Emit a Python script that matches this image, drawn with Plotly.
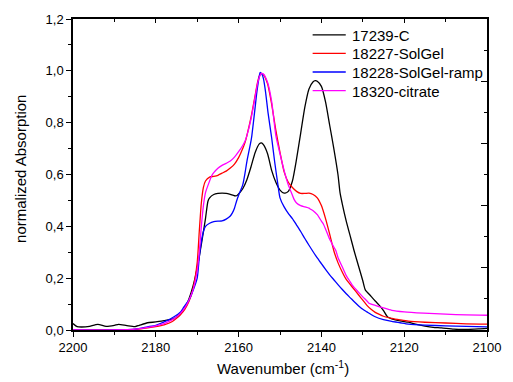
import plotly.graph_objects as go

# ---------------- data ----------------
black_x = [2200, 2199, 2197, 2196, 2194, 2192, 2190, 2189, 2187, 2185, 2184, 2182, 2180, 2178, 2176,
           2175, 2174, 2173, 2172, 2171, 2170, 2169, 2168, 2167.4, 2167, 2166, 2165, 2164, 2163, 2162,
           2161, 2160.5, 2160, 2159, 2158, 2157, 2156, 2155, 2154.5, 2154, 2153, 2152, 2151, 2150,
           2149, 2148, 2147, 2146, 2145, 2144, 2143, 2142, 2141.5, 2141, 2140, 2139, 2138, 2137, 2136,
           2135.5, 2135, 2134, 2133, 2132.5, 2132, 2131, 2130, 2129.4, 2128, 2127, 2126, 2125, 2124,
           2123, 2121, 2119, 2117, 2115, 2113, 2111, 2108, 2105, 2102, 2100]
black_y = [0.025, 0.013, 0.012, 0.014, 0.022, 0.014, 0.018, 0.022, 0.017, 0.013, 0.018, 0.028, 0.031,
           0.036, 0.042, 0.05, 0.065, 0.085, 0.12, 0.17, 0.24, 0.33, 0.43, 0.497, 0.51, 0.523, 0.527,
           0.528, 0.527, 0.523, 0.518, 0.518, 0.525, 0.545, 0.58, 0.63, 0.685, 0.718, 0.722, 0.715,
           0.68, 0.615, 0.57, 0.54, 0.528, 0.535, 0.575, 0.66, 0.76, 0.86, 0.93, 0.958, 0.962, 0.96,
           0.94, 0.88, 0.79, 0.70, 0.60, 0.53, 0.49, 0.42, 0.36, 0.33, 0.30, 0.245, 0.19, 0.155, 0.13,
           0.112, 0.095, 0.075, 0.05, 0.043, 0.035, 0.03, 0.022, 0.015, 0.01, 0.008, 0.003, 0.002,
           0.004, 0.006]

red_x = [2200, 2190, 2185, 2182, 2180, 2178, 2176, 2175, 2174, 2173, 2172, 2171, 2170, 2169.5, 2169,
         2168.5, 2168, 2167, 2166, 2165, 2164, 2163, 2162, 2161, 2160, 2159, 2158.4, 2158, 2157, 2156,
         2155.5, 2155, 2154.5, 2154, 2153, 2152, 2151, 2150, 2149, 2148, 2147, 2146, 2145, 2144, 2143,
         2142, 2141, 2140, 2139, 2138, 2137, 2136, 2135, 2134, 2133, 2132.5, 2131, 2130, 2129, 2128,
         2127, 2126, 2125, 2123, 2121, 2119, 2115, 2110, 2105, 2100]
red_y = [0.0, 0.0, 0.002, 0.008, 0.013, 0.02, 0.033, 0.045, 0.06, 0.08, 0.11, 0.16, 0.26, 0.38, 0.49,
         0.55, 0.575, 0.59, 0.593, 0.597, 0.605, 0.613, 0.625, 0.64, 0.665, 0.70, 0.726, 0.75, 0.82,
         0.905, 0.95, 0.98, 0.99, 0.985, 0.95, 0.87, 0.77, 0.685, 0.61, 0.57, 0.55, 0.535, 0.527,
         0.527, 0.528, 0.523, 0.51, 0.48, 0.43, 0.37, 0.306, 0.26, 0.225, 0.195, 0.175, 0.165, 0.135,
         0.115, 0.095, 0.08, 0.068, 0.06, 0.053, 0.045, 0.039, 0.034, 0.03, 0.027, 0.024, 0.023]

blue_x = [2200, 2190, 2185, 2182, 2180, 2178.8, 2177, 2175.6, 2174, 2173.2, 2172, 2171.3, 2170,
          2169.5, 2169, 2168.5, 2168, 2167, 2166, 2165, 2164, 2163, 2162, 2161.5, 2161, 2160.5, 2160,
          2159, 2158.4, 2158, 2157, 2156.8, 2156, 2155.6, 2155, 2154.8, 2154.3, 2154, 2153.5, 2152.9,
          2152, 2151.3, 2150.5, 2150, 2149, 2148, 2147, 2146, 2145, 2144, 2143, 2142, 2141, 2140,
          2139, 2138, 2137, 2136, 2135, 2134, 2133, 2132, 2131, 2130, 2129, 2128, 2127, 2125, 2123,
          2121, 2119, 2115, 2110, 2105, 2100]
blue_y = [0.0, 0.0, 0.003, 0.012, 0.018, 0.026, 0.038, 0.051, 0.07, 0.089, 0.115, 0.14, 0.2, 0.28,
          0.34, 0.38, 0.40, 0.412, 0.418, 0.42, 0.421, 0.428, 0.44, 0.452, 0.47, 0.497, 0.52, 0.56,
          0.61, 0.65, 0.73, 0.75, 0.86, 0.917, 0.98, 0.994, 0.985, 0.97, 0.92, 0.84, 0.74, 0.65, 0.56,
          0.51, 0.475, 0.45, 0.43, 0.405, 0.38, 0.353, 0.327, 0.302, 0.278, 0.256, 0.234, 0.213,
          0.194, 0.175, 0.157, 0.14, 0.124, 0.108, 0.093, 0.08, 0.07, 0.06, 0.051, 0.04, 0.033,
          0.028, 0.023, 0.019, 0.016, 0.014, 0.012]

mag_x = [2200, 2190, 2185, 2182, 2180, 2178, 2176, 2175, 2174, 2173, 2172, 2171, 2170, 2169.5, 2169,
         2168.5, 2168, 2167, 2166.5, 2166, 2165, 2164, 2163, 2162, 2161, 2160, 2159, 2158.4, 2158,
         2157, 2156, 2155.5, 2155, 2154.5, 2154, 2153, 2152, 2151, 2150, 2149, 2148, 2147, 2146.6,
         2146, 2145, 2144, 2143, 2142.6, 2142, 2141, 2140, 2139.5, 2139, 2138, 2137, 2136.5, 2136,
         2135, 2134, 2133, 2132.5, 2131, 2130, 2129, 2128.5, 2127, 2125, 2123, 2120, 2115.3, 2110,
         2105, 2100]
mag_y = [0.0, 0.0, 0.003, 0.01, 0.016, 0.025, 0.04, 0.05, 0.065, 0.085, 0.115, 0.155, 0.23, 0.30,
         0.40, 0.48, 0.53, 0.575, 0.595, 0.607, 0.624, 0.635, 0.643, 0.652, 0.667, 0.688, 0.712, 0.73,
         0.75, 0.815, 0.90, 0.945, 0.975, 0.99, 0.988, 0.955, 0.88, 0.75, 0.68, 0.615, 0.56, 0.52,
         0.504, 0.49, 0.48, 0.475, 0.47, 0.466, 0.46, 0.445, 0.42, 0.408, 0.39, 0.35, 0.32, 0.306,
         0.28, 0.245, 0.21, 0.185, 0.172, 0.145, 0.128, 0.112, 0.103, 0.095, 0.085, 0.076, 0.07,
         0.065, 0.061, 0.058, 0.057]

series = [
    ("17239-C", black_x, black_y, "#000000"),
    ("18227-SolGel", red_x, red_y, "#ff0000"),
    ("18228-SolGel-ramp", blue_x, blue_y, "#0000ff"),
    ("18320-citrate", mag_x, mag_y, "#ff00ff"),
]

y_tickvals = [0.0, 0.2, 0.4, 0.6, 0.8, 1.0, 1.2]
y_ticktext = ["0,0", "0,2", "0,4", "0,6", "0,8", "1,0", "1,2"]
x_tickvals = [2200, 2180, 2160, 2140, 2120, 2100]

FONT = "Liberation Sans, Arial, sans-serif"
TICK_SIZE = 13
LEG_SIZE = 15
TITLE_SIZE = 15

W, H, L, R, T, B = 513, 382, 73, 15, 16, 52
pw, ph = W - L - R, H - T - B


def px2paper(px, py):
    return (px - L) / pw, 1 - (py - T) / ph


fig = go.Figure()
for name, xs, ys, col in series:
    fig.add_trace(go.Scatter(x=xs, y=ys, name=name, mode="lines", showlegend=False,
                             line=dict(color=col, width=1.3, shape="spline", smoothing=0.6)))

# dummy trace so the mirrored (top/right) axes are drawn
fig.add_trace(go.Scatter(x=[None], y=[None], xaxis="x2", yaxis="y2", showlegend=False,
                         hoverinfo="skip"))

# legend (drawn as line samples + labels, Origin-style compact spacing)
shapes = []
annotations = []
for i, (name, xs, ys, col) in enumerate(series):
    row_y = 32 + i * 18.75
    x0, yy = px2paper(319, row_y)
    x1, _ = px2paper(353, row_y)
    shapes.append(dict(type="line", xref="paper", yref="paper", x0=x0, x1=x1, y0=yy, y1=yy,
                       line=dict(color=col, width=1.3)))
    tx, ty = px2paper(357, row_y + 0.5)
    annotations.append(dict(text=name, x=tx, y=ty, xref="paper", yref="paper", xanchor="left",
                            yanchor="middle", showarrow=False,
                            font=dict(family=FONT, size=LEG_SIZE, color="black")))

ax_x, ax_y = px2paper(289, 368)
annotations.append(dict(text="Wavenumber (cm<sup>-1</sup>)", x=ax_x, y=ax_y, xref="paper",
                        yref="paper", xanchor="center", yanchor="middle", showarrow=False,
                        font=dict(family=FONT, size=TITLE_SIZE, color="black")))
ay_x, ay_y = px2paper(19, 167)
annotations.append(dict(text="normalized Absorption", x=ay_x, y=ay_y, xref="paper", yref="paper",
                        xanchor="center", yanchor="middle", showarrow=False, textangle=-90,
                        font=dict(family=FONT, size=TITLE_SIZE, color="black")))

fig.update_layout(
    width=W, height=H,
    margin=dict(l=L, r=R, t=T, b=B),
    paper_bgcolor="white", plot_bgcolor="white",
    font=dict(family=FONT, color="black", size=TICK_SIZE),
    showlegend=False,
    xaxis=dict(range=[2200, 2100], tickvals=x_tickvals, ticks="outside", ticklen=5,
               tickwidth=1.3, tickcolor="black", showline=True, linecolor="black", linewidth=1.5,
               showgrid=False, zeroline=False, tickfont=dict(size=TICK_SIZE),
               minor=dict(dtick=10, tick0=2100, ticks="outside", ticklen=3, tickwidth=1.2,
                          tickcolor="black", showgrid=False)),
    xaxis2=dict(range=[2200, 2100], overlaying="x", side="top", dtick=20, tick0=2100,
                ticks="inside", ticklen=4, tickwidth=1.2, tickcolor="black", showline=True,
                linecolor="black", linewidth=1.5, showgrid=False, zeroline=False,
                showticklabels=False,
                minor=dict(dtick=10, tick0=2100, ticks="inside", ticklen=3, tickwidth=1.2,
                           tickcolor="black", showgrid=False)),
    yaxis=dict(range=[0, 1.2], tickvals=y_tickvals, ticktext=y_ticktext, ticks="outside",
               ticklen=5, tickwidth=1.3, tickcolor="black", showline=True, linecolor="black",
               linewidth=1.5, showgrid=False, zeroline=False, tickfont=dict(size=TICK_SIZE),
               minor=dict(dtick=0.1, tick0=0, ticks="outside", ticklen=3, tickwidth=1.2,
                          tickcolor="black", showgrid=False)),
    yaxis2=dict(range=[0, 1], overlaying="y", side="right", dtick=0.2, tick0=0,
                ticks="inside", ticklen=6, tickwidth=1.2, tickcolor="black", showline=True,
                linecolor="black", linewidth=1.5, showgrid=False, zeroline=False,
                showticklabels=False,
                minor=dict(dtick=0.1, tick0=0, ticks="inside", ticklen=3.5, tickwidth=1.2,
                           tickcolor="black", showgrid=False)),
    shapes=shapes,
    annotations=annotations,
)

fig.write_html("out.html")
